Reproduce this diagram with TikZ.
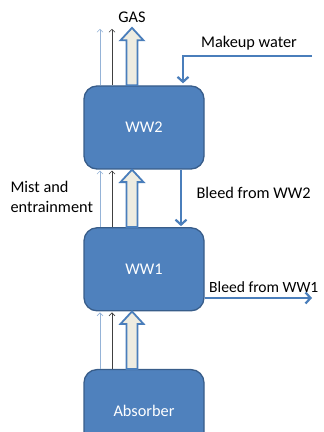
\documentclass[tikz,border=0pt]{standalone}
\usepackage{fontspec}
\setmainfont{Carlito}
\usetikzlibrary{arrows.meta,positioning}

\definecolor{boxblue}{HTML}{4F81BD}
\definecolor{boxline}{HTML}{385D8A}
\definecolor{flowblue}{HTML}{4A7EBB}
\definecolor{mistlight}{HTML}{95B3D7}
\definecolor{mistdark}{HTML}{404040}
\definecolor{gasfill}{HTML}{EEECE1}

\tikzset{
  stage/.style={draw=boxline, line width=1.3pt, fill=boxblue, rounded corners=13pt,
    minimum width=120pt, minimum height=83pt, text=white},
  flow/.style={draw=flowblue, line width=2.2pt, -{Straight Barb[length=5pt,width=11pt]}},
  mistthin/.style={line width=0.6pt, -{Straight Barb[length=3pt,width=6pt]}},
  gasarrow/.style={draw=flowblue, line width=1.8pt, fill=gasfill, line join=miter}
}

\begin{document}
\begin{tikzpicture}[x=1pt,y=1pt,font=\fontsize{16.3}{20}\selectfont,node distance=57.5pt]
\useasboundingbox (0,0) rectangle (324,432);
\clip (0,0) rectangle (324,432);

% stages
\node[stage] (ww2) at (144,304.5) {WW2};
\node[stage, below=of ww2] (ww1) {WW1};
\node[stage, below=of ww1] (absorber) {Absorber};

% gas, mist and entrainment going up
\foreach \st in {absorber, ww1, ww2} {
  \draw[mistthin, mistlight] ([xshift=-44pt]\st.north) -- ++(0,56.5);
  \draw[mistthin, mistdark] ([xshift=-32pt]\st.north) -- ++(0,56.5);
  \draw[gasarrow] ([xshift=-12pt]\st.north) ++(-5.5,0) -- ++(0,45) -- ++(-6,0)
    -- ++(11.5,12.5) -- ++(11.5,-12.5) -- ++(-6,0) -- ++(0,-45) -- cycle;
}
\node (gas) at (132,415) {GAS};
\node[align=left, anchor=west] (mist) at (7,235) {Mist and\\entrainment};

% water
\coordinate (makeup) at (312,376);
\draw[flow] (makeup) -| ([xshift=39pt,yshift=2pt]ww2.north);
\node (makeuplbl) at (249,389) {Makeup water};

\draw[flow] ([xshift=37pt]ww2.south) -- ([xshift=37pt,yshift=1pt]ww1.north);
\node[anchor=west] (bleed2) at (193,239) {Bleed from WW2};

\coordinate (bleed1end) at (312,134);
\draw[flow] (ww1.east |- bleed1end) -- (bleed1end);
\node[anchor=west, inner sep=1pt, font=\fontsize{15.6}{20}\selectfont] (bleed1) at (208,145) {Bleed from WW1};
\end{tikzpicture}
\end{document}
